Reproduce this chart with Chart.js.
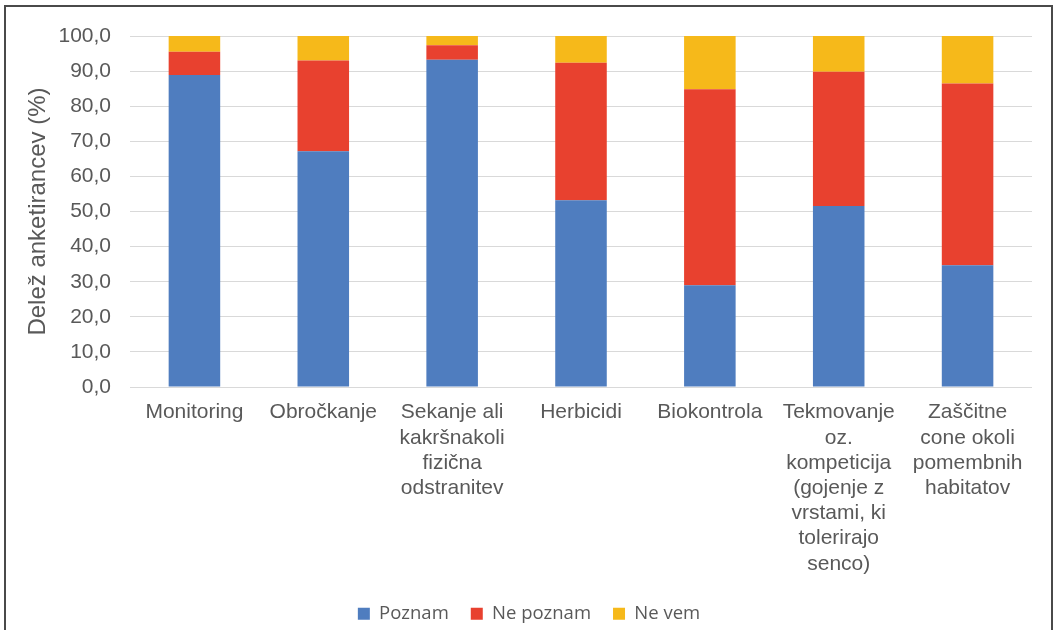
<!DOCTYPE html>
<html>
<head>
<meta charset="utf-8">
<script src="https://cdn.jsdelivr.net/npm/chart.js@4/dist/chart.umd.min.js"></script>
<style>
  html, body { margin: 0; padding: 0; background: #ffffff; overflow: hidden; }
  #wrap { position: relative; width: 1058px; height: 630px; }
  #frame {
    position: absolute; left: 4px; top: 5px; width: 1045px; height: 640px;
    border: 2px solid #4a4a4a; border-bottom: none; pointer-events: none;
  }
</style>
</head>
<body>
<div id="wrap">
  <canvas id="chart" width="1058" height="630"></canvas>
  <div id="frame"></div>
</div>
<script>
// Categories (multi-line labels are arrays of lines)
const categories = [
  'Monitoring',
  'Obročkanje',
  ['Sekanje ali', 'kakršnakoli', 'fizična', 'odstranitev'],
  'Herbicidi',
  'Biokontrola',
  ['Tekmovanje', 'oz.', 'kompeticija', '(gojenje z', 'vrstami, ki', 'tolerirajo', 'senco)'],
  ['Zaščitne', 'cone okoli', 'pomembnih', 'habitatov']
];

// Share of respondents (%) per answer
const poznam   = [88.9, 67.2, 93.2, 53.2, 29.0, 51.6, 34.7];
const nePoznam = [6.6, 25.8, 4.2, 39.2, 55.8, 38.2, 51.8];
const neVem    = [4.5, 7.0, 2.6, 7.6, 15.2, 10.2, 13.5];

const seriesNames = ['Poznam', 'Ne poznam', 'Ne vem'];
const yTickLabels = ['0,0', '10,0', '20,0', '30,0', '40,0', '50,0', '60,0', '70,0', '80,0', '90,0', '100,0'];
const yTitle = 'Delež anketirancev (%)';

const textColor = '#595959';
const colors = ['#4f7dbf', '#e8412f', '#f6b91a'];

new Chart(document.getElementById('chart'), {
  type: 'bar',
  data: {
    labels: categories,
    datasets: [
      { label: seriesNames[0], data: poznam,   backgroundColor: colors[0] },
      { label: seriesNames[1], data: nePoznam, backgroundColor: colors[1] },
      { label: seriesNames[2], data: neVem,    backgroundColor: colors[2] }
    ]
  },
  options: {
    responsive: false,
    animation: false,
    devicePixelRatio: 1,
    datasets: { bar: { barPercentage: 0.4, categoryPercentage: 1.0, borderWidth: 0 } },
    layout: { padding: { top: 36, right: 0, bottom: -3, left: 0 } },
    scales: {
      x: {
        stacked: true,
        afterFit: (scale) => { scale.height = 195.4; },
        grid: { display: false, drawTicks: false },
        border: { display: false },
        ticks: {
          color: textColor,
          font: { family: '"Liberation Sans", Arial, sans-serif', size: 21, lineHeight: 1.2 },
          padding: 13,
          autoSkip: false,
          maxRotation: 0,
          minRotation: 0
        }
      },
      y: {
        stacked: true,
        min: 0,
        max: 100,
        afterFit: (scale) => { scale.width = 130; },
        grid: { color: '#d9d9d9', lineWidth: 1, drawTicks: false },
        border: { display: false },
        ticks: {
          stepSize: 10,
          color: textColor,
          font: { family: '"Liberation Sans", Arial, sans-serif', size: 21 },
          padding: 19,
          callback: (value, index) => yTickLabels[index]
        },
        title: {
          display: true,
          text: yTitle,
          color: textColor,
          font: { family: '"Liberation Sans", Arial, sans-serif', size: 24, lineHeight: 1.2 },
          padding: { top: 23.6, bottom: 0 }
        }
      },
      // empty right-hand margin so the legend stays centred on the whole canvas
      yRight: {
        position: 'right',
        display: true,
        afterFit: (scale) => { scale.width = 26; },
        grid: { display: false, drawTicks: false },
        border: { display: false },
        ticks: { display: false }
      }
    },
    plugins: {
      legend: {
        position: 'bottom',
        labels: {
          color: textColor,
          font: { family: '"Open Sans", sans-serif', size: 18.5 },
          boxWidth: 12,
          boxHeight: 12,
          padding: 22
        }
      },
      tooltip: { enabled: false }
    }
  }
});
</script>
</body>
</html>
